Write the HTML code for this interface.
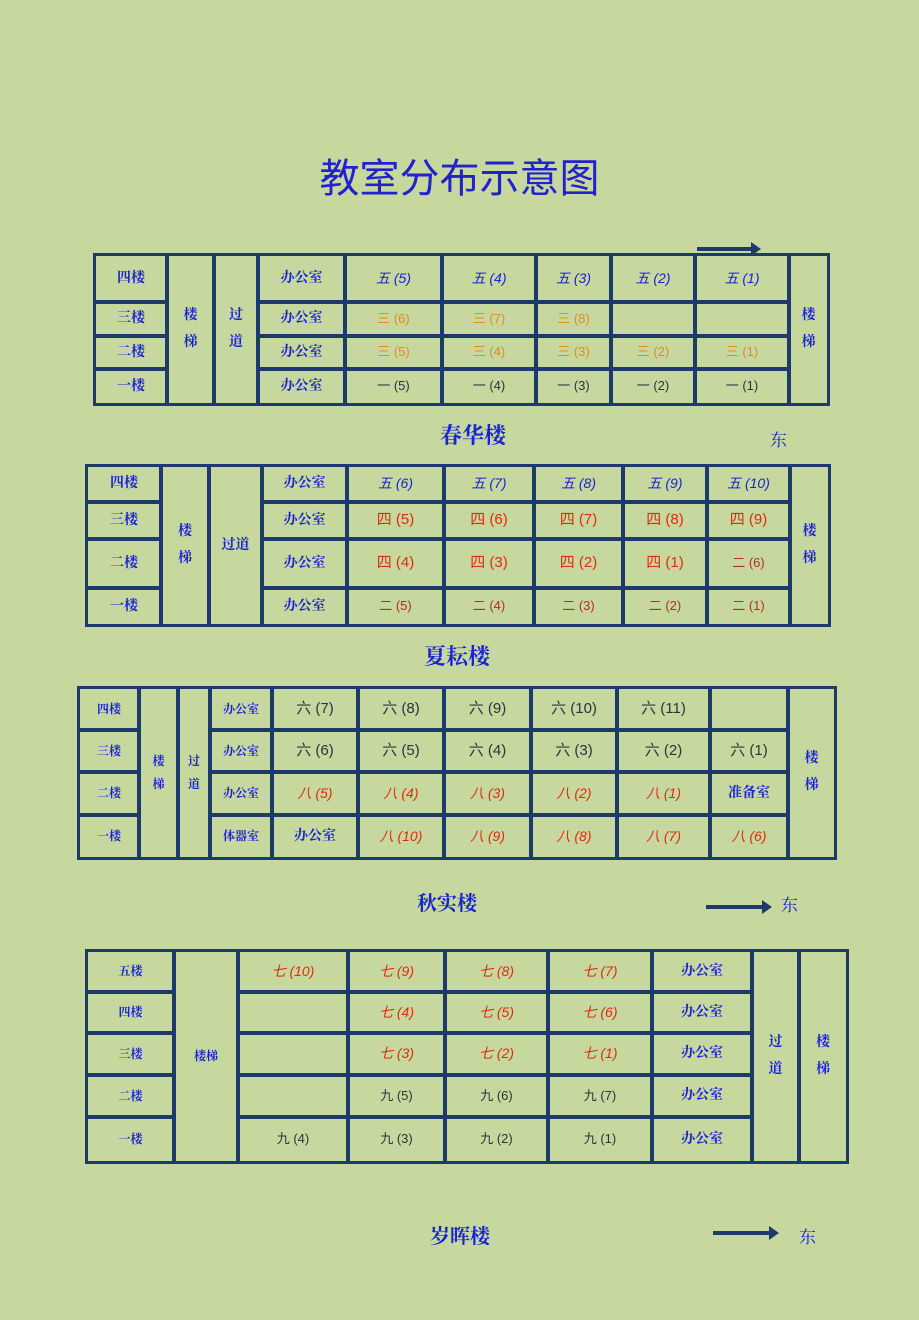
<!DOCTYPE html>
<html><head><meta charset="utf-8"><style>
body{margin:0;background:#c6d89e;}
#p{position:relative;width:919px;height:1320px;overflow:hidden;background:#c6d89e;font-family:"Liberation Sans","Noto Sans CJK SC",sans-serif;}
.c{position:absolute;box-sizing:border-box;outline:3px solid #1d3a6a;outline-offset:-1.5px;display:flex;align-items:center;justify-content:center;font-size:14px;text-align:center;line-height:1.25;}
.v{line-height:1.9;}
.b{color:#1a22d8;font-weight:bold;font-family:"Liberation Serif","Noto Serif CJK SC",serif;}
.o{color:#e48a22;font-size:13px}
.r{color:#e02a12;font-style:italic}
.k{color:#2a3340}
.n{color:#1a22d8;font-style:italic}
.t{position:absolute;color:#1a22d8;font-weight:bold;font-family:"Liberation Serif","Noto Serif CJK SC",serif;}
.a{position:absolute;height:4px;background:#1d3a6a;}
.a:after{content:"";position:absolute;right:-8px;top:-5px;border-left:10px solid #1d3a6a;border-top:7px solid transparent;border-bottom:7px solid transparent;}
</style></head><body><div id="p">
<div style="position:absolute;left:0;width:919px;top:146px;text-align:center;font-size:40px;color:#2222cc;font-family:'Liberation Sans','Noto Sans CJK SC',sans-serif;">教室分布示意图</div>

<!-- Table 1 -->
<div class="a" style="left:697px;top:247px;width:56px"></div>
<div class="c b" style="left:95px;top:255px;width:72px;height:47px">四楼</div>
<div class="c b" style="left:95px;top:302px;width:72px;height:34px">三楼</div>
<div class="c b" style="left:95px;top:336px;width:72px;height:33px">二楼</div>
<div class="c b" style="left:95px;top:369px;width:72px;height:35px">一楼</div>
<div class="c b v" style="left:167px;top:255px;width:47px;height:149px">楼<br>梯</div>
<div class="c b v" style="left:214px;top:255px;width:44px;height:149px">过<br>道</div>
<div class="c b" style="left:258px;top:255px;width:87px;height:47px">办公室</div>
<div class="c b" style="left:258px;top:302px;width:87px;height:34px">办公室</div>
<div class="c b" style="left:258px;top:336px;width:87px;height:33px">办公室</div>
<div class="c b" style="left:258px;top:369px;width:87px;height:35px">办公室</div>
<div class="c n" style="left:345px;top:255px;width:97px;height:47px">五 (5)</div>
<div class="c n" style="left:442px;top:255px;width:94px;height:47px">五 (4)</div>
<div class="c n" style="left:536px;top:255px;width:75px;height:47px">五 (3)</div>
<div class="c n" style="left:611px;top:255px;width:84px;height:47px">五 (2)</div>
<div class="c n" style="left:695px;top:255px;width:94px;height:47px">五 (1)</div>
<div class="c o" style="left:345px;top:302px;width:97px;height:34px">三 (6)</div>
<div class="c o" style="left:442px;top:302px;width:94px;height:34px">三 (7)</div>
<div class="c o" style="left:536px;top:302px;width:75px;height:34px">三 (8)</div>
<div class="c o" style="left:611px;top:302px;width:84px;height:34px"></div>
<div class="c o" style="left:695px;top:302px;width:94px;height:34px"></div>
<div class="c o" style="left:345px;top:336px;width:97px;height:33px">三 (5)</div>
<div class="c o" style="left:442px;top:336px;width:94px;height:33px">三 (4)</div>
<div class="c o" style="left:536px;top:336px;width:75px;height:33px">三 (3)</div>
<div class="c o" style="left:611px;top:336px;width:84px;height:33px">三 (2)</div>
<div class="c o" style="left:695px;top:336px;width:94px;height:33px">三 (1)</div>
<div class="c k" style="left:345px;top:369px;width:97px;height:35px;font-size:13px">一 (5)</div>
<div class="c k" style="left:442px;top:369px;width:94px;height:35px;font-size:13px">一 (4)</div>
<div class="c k" style="left:536px;top:369px;width:75px;height:35px;font-size:13px">一 (3)</div>
<div class="c k" style="left:611px;top:369px;width:84px;height:35px;font-size:13px">一 (2)</div>
<div class="c k" style="left:695px;top:369px;width:94px;height:35px;font-size:13px">一 (1)</div>
<div class="c b v" style="left:789px;top:255px;width:39px;height:149px">楼<br>梯</div>
<div class="t" style="left:440px;top:419px;font-size:22px">春华楼</div>
<div class="t" style="left:770px;top:426px;font-size:17px;font-weight:normal">东</div>

<!-- Table 2 -->
<div class="c b" style="left:87px;top:466px;width:74px;height:36px">四楼</div>
<div class="c b" style="left:87px;top:502px;width:74px;height:37px">三楼</div>
<div class="c b" style="left:87px;top:539px;width:74px;height:49px">二楼</div>
<div class="c b" style="left:87px;top:588px;width:74px;height:37px">一楼</div>
<div class="c b v" style="left:161px;top:466px;width:48px;height:159px">楼<br>梯</div>
<div class="c b" style="left:209px;top:466px;width:53px;height:159px">过道</div>
<div class="c b" style="left:262px;top:466px;width:85px;height:36px">办公室</div>
<div class="c b" style="left:262px;top:502px;width:85px;height:37px">办公室</div>
<div class="c b" style="left:262px;top:539px;width:85px;height:49px">办公室</div>
<div class="c b" style="left:262px;top:588px;width:85px;height:37px">办公室</div>
<div class="c n" style="left:347px;top:466px;width:97px;height:36px">五 (6)</div>
<div class="c n" style="left:444px;top:466px;width:90px;height:36px">五 (7)</div>
<div class="c n" style="left:534px;top:466px;width:89px;height:36px">五 (8)</div>
<div class="c n" style="left:623px;top:466px;width:84px;height:36px">五 (9)</div>
<div class="c n" style="left:707px;top:466px;width:83px;height:36px">五 (10)</div>
<div class="c" style="left:347px;top:502px;width:97px;height:37px;color:#e02a12;font-size:15px">四 (5)</div>
<div class="c" style="left:444px;top:502px;width:90px;height:37px;color:#e02a12;font-size:15px">四 (6)</div>
<div class="c" style="left:534px;top:502px;width:89px;height:37px;color:#e02a12;font-size:15px">四 (7)</div>
<div class="c" style="left:623px;top:502px;width:84px;height:37px;color:#e02a12;font-size:15px">四 (8)</div>
<div class="c" style="left:707px;top:502px;width:83px;height:37px;color:#e02a12;font-size:15px">四 (9)</div>
<div class="c" style="left:347px;top:539px;width:97px;height:49px;color:#e02a12;font-size:15px">四 (4)</div>
<div class="c" style="left:444px;top:539px;width:90px;height:49px;color:#e02a12;font-size:15px">四 (3)</div>
<div class="c" style="left:534px;top:539px;width:89px;height:49px;color:#e02a12;font-size:15px">四 (2)</div>
<div class="c" style="left:623px;top:539px;width:84px;height:49px;color:#e02a12;font-size:15px">四 (1)</div>
<div class="c" style="left:707px;top:539px;width:83px;height:49px;color:#b0301a;font-size:13px">二 (6)</div>
<div class="c" style="left:347px;top:588px;width:97px;height:37px;color:#b0301a;font-size:13px">二 (5)</div>
<div class="c" style="left:444px;top:588px;width:90px;height:37px;color:#b0301a;font-size:13px">二 (4)</div>
<div class="c" style="left:534px;top:588px;width:89px;height:37px;color:#b0301a;font-size:13px">二 (3)</div>
<div class="c" style="left:623px;top:588px;width:84px;height:37px;color:#b0301a;font-size:13px">二 (2)</div>
<div class="c" style="left:707px;top:588px;width:83px;height:37px;color:#b0301a;font-size:13px">二 (1)</div>
<div class="c b v" style="left:790px;top:466px;width:39px;height:159px">楼<br>梯</div>
<div class="t" style="left:424px;top:640px;font-size:22px">夏耘楼</div>

<!-- Table 3 -->
<div class="c b" style="left:79px;top:688px;width:60px;height:42px;font-size:12px">四楼</div>
<div class="c b" style="left:79px;top:730px;width:60px;height:42px;font-size:12px">三楼</div>
<div class="c b" style="left:79px;top:772px;width:60px;height:43px;font-size:12px">二楼</div>
<div class="c b" style="left:79px;top:815px;width:60px;height:43px;font-size:12px">一楼</div>
<div class="c b v" style="left:139px;top:688px;width:39px;height:170px;font-size:12px">楼<br>梯</div>
<div class="c b v" style="left:178px;top:688px;width:32px;height:170px;font-size:12px">过<br>道</div>
<div class="c b" style="left:210px;top:688px;width:62px;height:42px;font-size:12px">办公室</div>
<div class="c b" style="left:210px;top:730px;width:62px;height:42px;font-size:12px">办公室</div>
<div class="c b" style="left:210px;top:772px;width:62px;height:43px;font-size:12px">办公室</div>
<div class="c b" style="left:210px;top:815px;width:62px;height:43px;font-size:12px">体器室</div>
<div class="c k" style="left:272px;top:688px;width:86px;height:42px;font-size:15px">六 (7)</div>
<div class="c k" style="left:358px;top:688px;width:86px;height:42px;font-size:15px">六 (8)</div>
<div class="c k" style="left:444px;top:688px;width:87px;height:42px;font-size:15px">六 (9)</div>
<div class="c k" style="left:531px;top:688px;width:86px;height:42px;font-size:15px">六 (10)</div>
<div class="c k" style="left:617px;top:688px;width:93px;height:42px;font-size:15px">六 (11)</div>
<div class="c k" style="left:710px;top:688px;width:78px;height:42px"></div>
<div class="c k" style="left:272px;top:730px;width:86px;height:42px;font-size:15px">六 (6)</div>
<div class="c k" style="left:358px;top:730px;width:86px;height:42px;font-size:15px">六 (5)</div>
<div class="c k" style="left:444px;top:730px;width:87px;height:42px;font-size:15px">六 (4)</div>
<div class="c k" style="left:531px;top:730px;width:86px;height:42px;font-size:15px">六 (3)</div>
<div class="c k" style="left:617px;top:730px;width:93px;height:42px;font-size:15px">六 (2)</div>
<div class="c k" style="left:710px;top:730px;width:78px;height:42px;font-size:15px">六 (1)</div>
<div class="c r" style="left:272px;top:772px;width:86px;height:43px">八 (5)</div>
<div class="c r" style="left:358px;top:772px;width:86px;height:43px">八 (4)</div>
<div class="c r" style="left:444px;top:772px;width:87px;height:43px">八 (3)</div>
<div class="c r" style="left:531px;top:772px;width:86px;height:43px">八 (2)</div>
<div class="c r" style="left:617px;top:772px;width:93px;height:43px">八 (1)</div>
<div class="c b" style="left:710px;top:772px;width:78px;height:43px">准备室</div>
<div class="c b" style="left:272px;top:815px;width:86px;height:43px">办公室</div>
<div class="c r" style="left:358px;top:815px;width:86px;height:43px">八 (10)</div>
<div class="c r" style="left:444px;top:815px;width:87px;height:43px">八 (9)</div>
<div class="c r" style="left:531px;top:815px;width:86px;height:43px">八 (8)</div>
<div class="c r" style="left:617px;top:815px;width:93px;height:43px">八 (7)</div>
<div class="c r" style="left:710px;top:815px;width:78px;height:43px">八 (6)</div>
<div class="c b v" style="left:788px;top:688px;width:47px;height:170px">楼<br>梯</div>
<div class="t" style="left:417px;top:887px;font-size:20px">秋实楼</div>
<div class="a" style="left:706px;top:905px;width:58px"></div>
<div class="t" style="left:781px;top:891px;font-size:17px;font-weight:normal">东</div>

<!-- Table 4 -->
<div class="c b" style="left:87px;top:951px;width:87px;height:41px;font-size:12px">五楼</div>
<div class="c b" style="left:87px;top:992px;width:87px;height:41px;font-size:12px">四楼</div>
<div class="c b" style="left:87px;top:1033px;width:87px;height:42px;font-size:12px">三楼</div>
<div class="c b" style="left:87px;top:1075px;width:87px;height:42px;font-size:12px">二楼</div>
<div class="c b" style="left:87px;top:1117px;width:87px;height:45px;font-size:12px">一楼</div>
<div class="c b" style="left:174px;top:951px;width:64px;height:211px;font-size:12px">楼梯</div>
<div class="c r" style="left:238px;top:951px;width:110px;height:41px">七 (10)</div>
<div class="c r" style="left:348px;top:951px;width:97px;height:41px">七 (9)</div>
<div class="c r" style="left:445px;top:951px;width:103px;height:41px">七 (8)</div>
<div class="c r" style="left:548px;top:951px;width:104px;height:41px">七 (7)</div>
<div class="c b" style="left:652px;top:951px;width:100px;height:41px">办公室</div>
<div class="c" style="left:238px;top:992px;width:110px;height:41px"></div>
<div class="c r" style="left:348px;top:992px;width:97px;height:41px">七 (4)</div>
<div class="c r" style="left:445px;top:992px;width:103px;height:41px">七 (5)</div>
<div class="c r" style="left:548px;top:992px;width:104px;height:41px">七 (6)</div>
<div class="c b" style="left:652px;top:992px;width:100px;height:41px">办公室</div>
<div class="c" style="left:238px;top:1033px;width:110px;height:42px"></div>
<div class="c r" style="left:348px;top:1033px;width:97px;height:42px">七 (3)</div>
<div class="c r" style="left:445px;top:1033px;width:103px;height:42px">七 (2)</div>
<div class="c r" style="left:548px;top:1033px;width:104px;height:42px">七 (1)</div>
<div class="c b" style="left:652px;top:1033px;width:100px;height:42px">办公室</div>
<div class="c" style="left:238px;top:1075px;width:110px;height:42px"></div>
<div class="c k" style="left:348px;top:1075px;width:97px;height:42px;font-size:13px">九 (5)</div>
<div class="c k" style="left:445px;top:1075px;width:103px;height:42px;font-size:13px">九 (6)</div>
<div class="c k" style="left:548px;top:1075px;width:104px;height:42px;font-size:13px">九 (7)</div>
<div class="c b" style="left:652px;top:1075px;width:100px;height:42px">办公室</div>
<div class="c k" style="left:238px;top:1117px;width:110px;height:45px;font-size:13px">九 (4)</div>
<div class="c k" style="left:348px;top:1117px;width:97px;height:45px;font-size:13px">九 (3)</div>
<div class="c k" style="left:445px;top:1117px;width:103px;height:45px;font-size:13px">九 (2)</div>
<div class="c k" style="left:548px;top:1117px;width:104px;height:45px;font-size:13px">九 (1)</div>
<div class="c b" style="left:652px;top:1117px;width:100px;height:45px">办公室</div>
<div class="c b v" style="left:752px;top:951px;width:47px;height:211px">过<br>道</div>
<div class="c b v" style="left:799px;top:951px;width:48px;height:211px">楼<br>梯</div>
<div class="t" style="left:430px;top:1220px;font-size:20px">岁晖楼</div>
<div class="a" style="left:713px;top:1231px;width:58px"></div>
<div class="t" style="left:799px;top:1223px;font-size:17px;font-weight:normal">东</div>
</div></body></html>
